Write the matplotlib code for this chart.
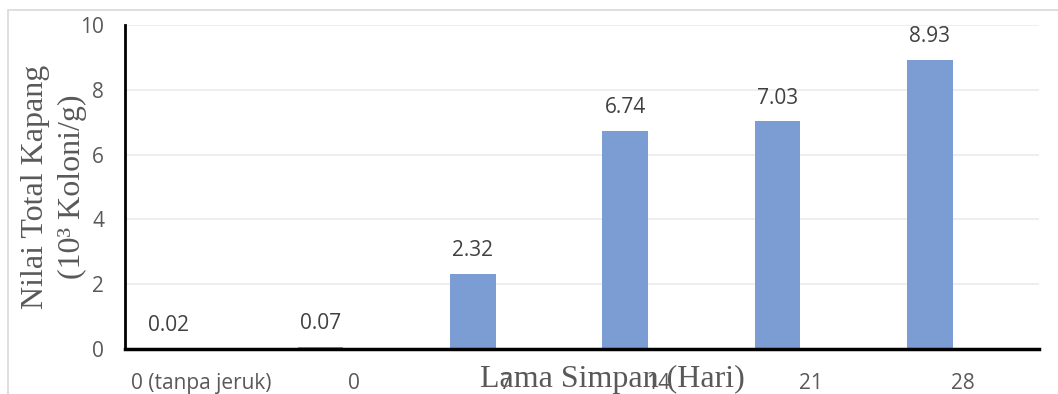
import matplotlib
matplotlib.use("Agg")
import matplotlib.pyplot as plt
from matplotlib.patches import Rectangle
import numpy as np

categories = ["0 (tanpa jeruk)", "0", "7", "14", "21", "28"]
values = [0.02, 0.07, 2.32, 6.74, 7.03, 8.93]
yticks = [0, 2, 4, 6, 8, 10]

W, H, DPI = 1058, 394, 100
fig = plt.figure(figsize=(W / DPI, H / DPI), dpi=DPI)
fig.patch.set_facecolor("white")

# light outer frame
fig.add_artist(Rectangle((8 / W, -0.1), 1.2, (H - 10) / H + 0.1, transform=fig.transFigure,
                         fill=False, edgecolor="#d9d9d9", linewidth=1.2))

ax = fig.add_axes([125 / W, 1 - 349 / H, (1039 - 125) / W, (349 - 25) / H])
x = np.arange(len(categories))
offset = -0.217
bars = ax.bar(x + offset, values, width=0.30, color="#7b9dd4", zorder=3)

ax.set_xlim(-0.5, len(categories) - 0.5)
ax.set_ylim(0, 10)
ax.set_yticks(yticks)
ax.set_xticks(x)
ax.set_xticklabels(categories)
ax.grid(axis="y", color="#ebebeb", linewidth=1.2, zorder=0)
ax.tick_params(axis="both", length=0, labelcolor="#595959", labelsize=15,
               labelfontfamily="Open Sans")
ax.tick_params(axis="y", pad=15)
ax.tick_params(axis="x", pad=17)

for s in ["top", "right"]:
    ax.spines[s].set_visible(False)
ax.spines["left"].set_color("black")
ax.spines["left"].set_linewidth(2)
ax.spines["bottom"].set_color("black")
ax.spines["bottom"].set_linewidth(2.5)
ax.spines["left"].set_zorder(4)
ax.spines["bottom"].set_zorder(4)

for xi, v in zip(x + offset, values):
    ax.annotate(f"{v:.2f}", (xi, v), xytext=(0, 9), textcoords="offset points",
                ha="center", va="bottom", fontsize=15, color="#404040",
                family="Open Sans")

fig.text(612 / W, 1 - 387 / H, "Lama Simpan (Hari)", ha="center", va="baseline",
         fontsize=23, color="#595959", family="Liberation Serif")
fig.text(36 / W, 1 - 187 / H, "Nilai Total Kapang", ha="center", va="center",
         rotation=90, fontsize=23, color="#595959", family="Liberation Serif")
fig.text(72 / W, 1 - 187 / H, "(10\u00b3 Koloni/g)", ha="center", va="center",
         rotation=90, fontsize=23, color="#595959", family="Liberation Serif")

fig.savefig("out.png", dpi=DPI)
